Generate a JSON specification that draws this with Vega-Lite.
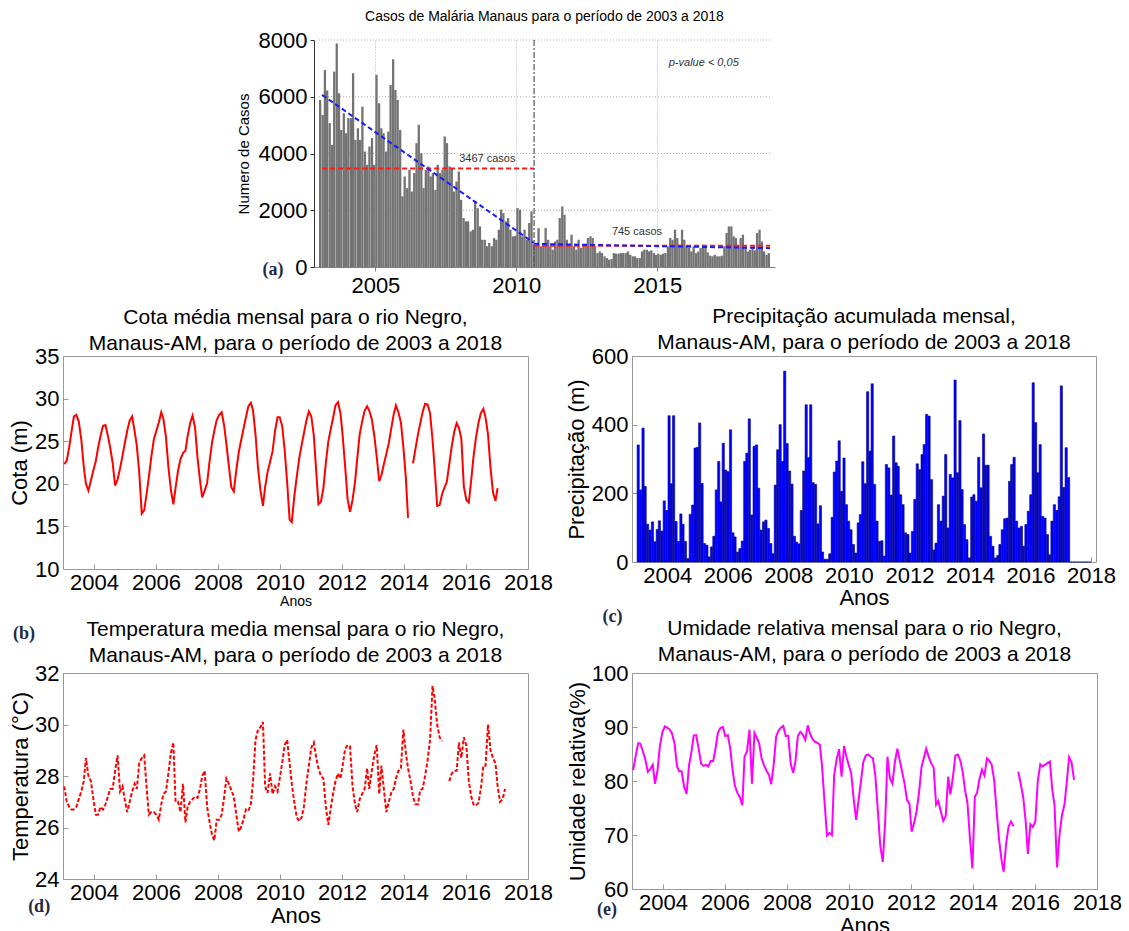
{
  "$schema": "https://vega.github.io/schema/vega-lite/v6.json",
  "background": "white",
  "padding": {"left": 8, "top": 10, "right": 0, "bottom": 0},
  "config": {
    "font": "Liberation Sans",
    "axis": {"labelFont": "Liberation Sans", "titleFont": "Liberation Sans", "labelFontSize": 22, "titleFontWeight": "normal", "labelColor": "#000", "titleColor": "#000", "grid": false, "domain": false, "ticks": true, "tickSize": -5, "tickColor": "#999999", "labelFlush": false, "labelOverlap": false, "labelPadding": 9},
    "title": {"font": "Liberation Sans", "fontWeight": "normal", "fontSize": 21, "color": "#000", "lineHeight": 26, "offset": 4}
  },
  "datasets": {
    "casos": [
      {"t":2003.04,"c":5890},{"t":2003.13,"c":5360},{"t":2003.21,"c":6945},{"t":2003.29,"c":6220},{"t":2003.38,"c":5070},{"t":2003.46,"c":4305},{"t":2003.54,"c":6885},{"t":2003.63,"c":7880},{"t":2003.71,"c":6120},{"t":2003.79,"c":4830},{"t":2003.88,"c":5420},{"t":2003.96,"c":4715},
      {"t":2004.04,"c":5245},{"t":2004.13,"c":5245},{"t":2004.21,"c":6830},{"t":2004.29,"c":4480},{"t":2004.38,"c":4890},{"t":2004.46,"c":4480},{"t":2004.54,"c":5650},{"t":2004.63,"c":4070},{"t":2004.71,"c":3600},{"t":2004.79,"c":4245},{"t":2004.88,"c":4540},{"t":2004.96,"c":3600},
      {"t":2005.04,"c":6770},{"t":2005.13,"c":5770},{"t":2005.21,"c":4890},{"t":2005.29,"c":4715},{"t":2005.38,"c":4070},{"t":2005.46,"c":4775},{"t":2005.54,"c":6415},{"t":2005.63,"c":7320},{"t":2005.71,"c":6240},{"t":2005.79,"c":5890},{"t":2005.88,"c":4830},{"t":2005.96,"c":2490},
      {"t":2006.04,"c":3190},{"t":2006.13,"c":2780},{"t":2006.21,"c":3425},{"t":2006.29,"c":2660},{"t":2006.38,"c":3310},{"t":2006.46,"c":4365},{"t":2006.54,"c":5010},{"t":2006.63,"c":4010},{"t":2006.71,"c":2780},{"t":2006.79,"c":3425},{"t":2006.88,"c":3545},{"t":2006.96,"c":3190},
      {"t":2007.04,"c":3310},{"t":2007.13,"c":2720},{"t":2007.21,"c":3600},{"t":2007.29,"c":3310},{"t":2007.38,"c":3425},{"t":2007.46,"c":4600},{"t":2007.54,"c":4365},{"t":2007.63,"c":3545},{"t":2007.71,"c":3485},{"t":2007.79,"c":2660},{"t":2007.88,"c":3015},{"t":2007.96,"c":3365},
      {"t":2008.04,"c":2370},{"t":2008.13,"c":1725},{"t":2008.21,"c":1610},{"t":2008.29,"c":1610},{"t":2008.38,"c":1255},{"t":2008.46,"c":1315},{"t":2008.54,"c":2310},{"t":2008.63,"c":2075},{"t":2008.71,"c":1430},{"t":2008.79,"c":960},{"t":2008.88,"c":960},{"t":2008.96,"c":730},
      {"t":2009.04,"c":845},{"t":2009.13,"c":730},{"t":2009.21,"c":1020},{"t":2009.29,"c":960},{"t":2009.38,"c":1315},{"t":2009.46,"c":2020},{"t":2009.54,"c":1900},{"t":2009.63,"c":1610},{"t":2009.71,"c":1725},{"t":2009.79,"c":1315},{"t":2009.88,"c":1080},{"t":2009.96,"c":1100},
      {"t":2010.04,"c":2075},{"t":2010.13,"c":2020},{"t":2010.21,"c":1080},{"t":2010.29,"c":1315},{"t":2010.38,"c":960},{"t":2010.46,"c":1550},{"t":2010.54,"c":1960},{"t":2010.63,"c":785},{"t":2010.71,"c":730},{"t":2010.79,"c":1370},{"t":2010.88,"c":730},{"t":2010.96,"c":785},
      {"t":2011.04,"c":1370},{"t":2011.13,"c":960},{"t":2011.21,"c":730},{"t":2011.29,"c":610},{"t":2011.38,"c":900},{"t":2011.46,"c":960},{"t":2011.54,"c":1725},{"t":2011.63,"c":2135},{"t":2011.71,"c":1840},{"t":2011.79,"c":960},{"t":2011.88,"c":730},{"t":2011.96,"c":1140},
      {"t":2012.04,"c":730},{"t":2012.13,"c":610},{"t":2012.21,"c":960},{"t":2012.29,"c":670},{"t":2012.38,"c":730},{"t":2012.46,"c":730},{"t":2012.54,"c":1020},{"t":2012.63,"c":1080},{"t":2012.71,"c":1020},{"t":2012.79,"c":730},{"t":2012.88,"c":490},{"t":2012.96,"c":550},
      {"t":2013.04,"c":490},{"t":2013.13,"c":375},{"t":2013.21,"c":315},{"t":2013.29,"c":260},{"t":2013.38,"c":280},{"t":2013.46,"c":490},{"t":2013.54,"c":470},{"t":2013.63,"c":470},{"t":2013.71,"c":490},{"t":2013.79,"c":490},{"t":2013.88,"c":490},{"t":2013.96,"c":550},
      {"t":2014.04,"c":430},{"t":2014.13,"c":375},{"t":2014.21,"c":375},{"t":2014.29,"c":315},{"t":2014.38,"c":315},{"t":2014.46,"c":550},{"t":2014.54,"c":610},{"t":2014.63,"c":610},{"t":2014.71,"c":550},{"t":2014.79,"c":585},{"t":2014.88,"c":490},{"t":2014.96,"c":430},
      {"t":2015.04,"c":470},{"t":2015.13,"c":430},{"t":2015.21,"c":470},{"t":2015.29,"c":490},{"t":2015.38,"c":730},{"t":2015.46,"c":1020},{"t":2015.54,"c":960},{"t":2015.63,"c":1315},{"t":2015.71,"c":1020},{"t":2015.79,"c":785},{"t":2015.88,"c":1315},{"t":2015.96,"c":960},
      {"t":2016.04,"c":730},{"t":2016.13,"c":670},{"t":2016.21,"c":550},{"t":2016.29,"c":730},{"t":2016.38,"c":490},{"t":2016.46,"c":550},{"t":2016.54,"c":670},{"t":2016.63,"c":785},{"t":2016.71,"c":730},{"t":2016.79,"c":515},{"t":2016.88,"c":400},{"t":2016.96,"c":375},
      {"t":2017.04,"c":430},{"t":2017.13,"c":375},{"t":2017.21,"c":375},{"t":2017.29,"c":400},{"t":2017.38,"c":730},{"t":2017.46,"c":1200},{"t":2017.54,"c":1430},{"t":2017.63,"c":1430},{"t":2017.71,"c":1080},{"t":2017.79,"c":1020},{"t":2017.88,"c":750},{"t":2017.96,"c":1020},
      {"t":2018.04,"c":1140},{"t":2018.13,"c":670},{"t":2018.21,"c":550},{"t":2018.29,"c":610},{"t":2018.38,"c":670},{"t":2018.46,"c":585},{"t":2018.54,"c":1200},{"t":2018.63,"c":1315},{"t":2018.71,"c":900},{"t":2018.79,"c":550},{"t":2018.88,"c":430},{"t":2018.96,"c":490}
    ],
    "linhas": [
      {"s":"m1","tipo":"media","t":2003.11,"v":3467},{"s":"m1","tipo":"media","t":2010.63,"v":3467},
      {"s":"m2","tipo":"media","t":2010.63,"v":745},{"s":"m2","tipo":"media","t":2019,"v":745},
      {"s":"t1","tipo":"tendencia","t":2003.11,"v":6065},{"s":"t1","tipo":"tendencia","t":2010.63,"v":845},
      {"s":"t2","tipo":"tendencia","t":2010.63,"v":815},{"s":"t2","tipo":"tendencia","t":2019,"v":665}
    ],
    "dados": [
      {"t":2003.04,"cota":22.3,"prec":341,"temp":27.6,"ur":82.0},
      {"t":2003.12,"cota":22.7,"prec":210,"temp":27.0,"ur":84.7},
      {"t":2003.20,"cota":24.3,"prec":390,"temp":26.8,"ur":87.0},
      {"t":2003.27,"cota":26.0,"prec":220,"temp":26.7,"ur":86.9},
      {"t":2003.35,"cota":27.9,"prec":110,"temp":26.7,"ur":85.5},
      {"t":2003.43,"cota":28.1,"prec":93,"temp":26.8,"ur":84.0},
      {"t":2003.51,"cota":27.3,"prec":117,"temp":27.1,"ur":81.7},
      {"t":2003.59,"cota":25.2,"prec":59,"temp":27.4,"ur":82.2},
      {"t":2003.67,"cota":22.0,"prec":95,"temp":27.8,"ur":83.0},
      {"t":2003.74,"cota":20.0,"prec":120,"temp":28.7,"ur":79.5},
      {"t":2003.82,"cota":19.2,"prec":90,"temp":28.0,"ur":81.8},
      {"t":2003.90,"cota":20.4,"prec":178,"temp":27.8,"ur":86.5},
      {"t":2003.98,"cota":21.6,"prec":150,"temp":27.1,"ur":89.0},
      {"t":2004.06,"cota":22.7,"prec":426,"temp":26.5,"ur":90.1},
      {"t":2004.13,"cota":24.2,"prec":228,"temp":26.5,"ur":89.9},
      {"t":2004.21,"cota":25.6,"prec":426,"temp":26.8,"ur":89.6},
      {"t":2004.29,"cota":26.8,"prec":118,"temp":26.7,"ur":88.8},
      {"t":2004.37,"cota":26.9,"prec":60,"temp":26.9,"ur":87.0},
      {"t":2004.45,"cota":25.6,"prec":140,"temp":27.2,"ur":82.8},
      {"t":2004.52,"cota":24.3,"prec":110,"temp":27.5,"ur":81.8},
      {"t":2004.60,"cota":22.5,"prec":60,"temp":27.5,"ur":81.8},
      {"t":2004.68,"cota":19.8,"prec":10,"temp":28.2,"ur":79.0},
      {"t":2004.76,"cota":20.5,"prec":139,"temp":28.8,"ur":77.6},
      {"t":2004.84,"cota":21.8,"prec":166,"temp":27.4,"ur":82.9},
      {"t":2004.92,"cota":23.3,"prec":332,"temp":27.6,"ur":85.5},
      {"t":2004.99,"cota":24.7,"prec":334,"temp":27.1,"ur":88.4},
      {"t":2005.07,"cota":26.2,"prec":405,"temp":26.6,"ur":88.5},
      {"t":2005.15,"cota":27.4,"prec":229,"temp":27.0,"ur":86.0},
      {"t":2005.23,"cota":27.9,"prec":54,"temp":27.4,"ur":83.2},
      {"t":2005.31,"cota":26.2,"prec":49,"temp":27.7,"ur":82.8},
      {"t":2005.38,"cota":24.5,"prec":15,"temp":27.5,"ur":83.0},
      {"t":2005.46,"cota":21.3,"prec":44,"temp":28.5,"ur":82.7},
      {"t":2005.54,"cota":16.5,"prec":75,"temp":28.7,"ur":83.7},
      {"t":2005.62,"cota":16.9,"prec":210,"temp":28.8,"ur":83.7},
      {"t":2005.70,"cota":18.9,"prec":293,"temp":27.5,"ur":86.2},
      {"t":2005.77,"cota":20.8,"prec":175,"temp":26.5,"ur":88.9},
      {"t":2005.85,"cota":23.2,"prec":346,"temp":26.6,"ur":89.8},
      {"t":2005.93,"cota":25.2,"prec":268,"temp":26.6,"ur":90.0},
      {"t":2006.01,"cota":26.2,"prec":263,"temp":26.5,"ur":88.3},
      {"t":2006.09,"cota":27.2,"prec":385,"temp":26.3,"ur":88.5},
      {"t":2006.17,"cota":28.4,"prec":85,"temp":26.9,"ur":86.0},
      {"t":2006.24,"cota":27.6,"prec":73,"temp":27.3,"ur":82.2},
      {"t":2006.32,"cota":25.5,"prec":29,"temp":27.4,"ur":79.1},
      {"t":2006.40,"cota":22.0,"prec":39,"temp":28.1,"ur":77.8},
      {"t":2006.48,"cota":19.3,"prec":61,"temp":28.9,"ur":77.0},
      {"t":2006.56,"cota":17.6,"prec":293,"temp":29.3,"ur":75.5},
      {"t":2006.63,"cota":19.5,"prec":317,"temp":27.0,"ur":84.5},
      {"t":2006.71,"cota":21.5,"prec":417,"temp":27.0,"ur":85.5},
      {"t":2006.79,"cota":22.9,"prec":137,"temp":26.6,"ur":89.5},
      {"t":2006.87,"cota":23.6,"prec":337,"temp":27.7,"ur":79.5},
      {"t":2006.95,"cota":23.9,"prec":341,"temp":26.2,"ur":88.9},
      {"t":2007.02,"cota":25.6,"prec":215,"temp":26.8,"ur":88.1},
      {"t":2007.10,"cota":27.1,"prec":93,"temp":27.0,"ur":87.0},
      {"t":2007.18,"cota":28.0,"prec":117,"temp":27.1,"ur":84.2},
      {"t":2007.26,"cota":26.6,"prec":122,"temp":27.2,"ur":82.9},
      {"t":2007.34,"cota":23.0,"prec":98,"temp":27.15,"ur":81.9},
      {"t":2007.42,"cota":20.4,"prec":54,"temp":27.5,"ur":81.1},
      {"t":2007.49,"cota":18.4,"prec":24,"temp":28.0,"ur":79.4},
      {"t":2007.57,"cota":19.2,"prec":224,"temp":28.2,"ur":83.0},
      {"t":2007.65,"cota":20.1,"prec":327,"temp":26.8,"ur":88.2},
      {"t":2007.73,"cota":22.7,"prec":400,"temp":26.2,"ur":89.4},
      {"t":2007.81,"cota":24.9,"prec":293,"temp":25.7,"ur":89.9},
      {"t":2007.88,"cota":26.2,"prec":556,"temp":25.5,"ur":90.2},
      {"t":2007.96,"cota":27.5,"prec":345,"temp":26.3,"ur":88.3},
      {"t":2008.04,"cota":28.1,"prec":265,"temp":26.3,"ur":88.4},
      {"t":2008.12,"cota":28.4,"prec":227,"temp":26.5,"ur":83.2},
      {"t":2008.20,"cota":26.8,"prec":75,"temp":27.2,"ur":81.5},
      {"t":2008.27,"cota":24.7,"prec":58,"temp":27.9,"ur":83.5},
      {"t":2008.35,"cota":22.1,"prec":53,"temp":27.7,"ur":88.3},
      {"t":2008.43,"cota":19.6,"prec":150,"temp":27.45,"ur":89.1},
      {"t":2008.51,"cota":19.1,"prec":265,"temp":27.2,"ur":88.6},
      {"t":2008.59,"cota":21.6,"prec":458,"temp":26.5,"ur":87.6},
      {"t":2008.67,"cota":23.7,"prec":304,"temp":25.85,"ur":90.3},
      {"t":2008.74,"cota":25.0,"prec":458,"temp":26.0,"ur":88.8},
      {"t":2008.82,"cota":26.4,"prec":231,"temp":26.3,"ur":87.8},
      {"t":2008.90,"cota":27.8,"prec":226,"temp":26.7,"ur":87.3},
      {"t":2008.98,"cota":29.1,"prec":111,"temp":26.65,"ur":87.05},
      {"t":2009.06,"cota":29.5,"prec":164,"temp":26.9,"ur":86.7},
      {"t":2009.13,"cota":28.6,"prec":29,"temp":27.8,"ur":82.8},
      {"t":2009.21,"cota":25.8,"prec":8,"temp":29.4,"ur":76.2},
      {"t":2009.29,"cota":21.9,"prec":8,"temp":29.8,"ur":69.9},
      {"t":2009.37,"cota":19.2,"prec":24,"temp":29.9,"ur":70.4},
      {"t":2009.45,"cota":17.4,"prec":130,"temp":30.1,"ur":70.0},
      {"t":2009.52,"cota":19.6,"prec":262,"temp":27.6,"ur":81.0},
      {"t":2009.60,"cota":21.4,"prec":294,"temp":27.34,"ur":84.0},
      {"t":2009.68,"cota":22.6,"prec":353,"temp":28.1,"ur":85.9},
      {"t":2009.76,"cota":23.8,"prec":206,"temp":27.3,"ur":80.8},
      {"t":2009.84,"cota":26.2,"prec":303,"temp":27.6,"ur":86.5},
      {"t":2009.92,"cota":27.8,"prec":167,"temp":27.4,"ur":84.4},
      {"t":2009.99,"cota":27.8,"prec":119,"temp":27.9,"ur":83.0},
      {"t":2010.07,"cota":26.8,"prec":94,"temp":28.5,"ur":81.5},
      {"t":2010.15,"cota":24.0,"prec":51,"temp":29.2,"ur":76.8},
      {"t":2010.23,"cota":20.2,"prec":26,"temp":29.4,"ur":72.8},
      {"t":2010.31,"cota":15.8,"prec":114,"temp":28.5,"ur":76.5},
      {"t":2010.38,"cota":15.5,"prec":138,"temp":27.7,"ur":79.7},
      {"t":2010.46,"cota":18.5,"prec":292,"temp":27.0,"ur":83.5},
      {"t":2010.54,"cota":20.8,"prec":228,"temp":26.4,"ur":84.7},
      {"t":2010.62,"cota":23.0,"prec":496,"temp":26.25,"ur":84.9},
      {"t":2010.70,"cota":24.6,"prec":323,"temp":26.4,"ur":84.5},
      {"t":2010.77,"cota":25.9,"prec":519,"temp":26.8,"ur":84.2},
      {"t":2010.85,"cota":27.4,"prec":226,"temp":27.7,"ur":81.0},
      {"t":2010.93,"cota":28.5,"prec":119,"temp":28.4,"ur":74.5},
      {"t":2011.01,"cota":27.9,"prec":60,"temp":29.1,"ur":68.0},
      {"t":2011.09,"cota":25.7,"prec":62,"temp":29.3,"ur":65.0},
      {"t":2011.17,"cota":21.4,"prec":17,"temp":28.7,"ur":72.8},
      {"t":2011.24,"cota":17.6,"prec":284,"temp":28.3,"ur":84.5},
      {"t":2011.32,"cota":17.9,"prec":274,"temp":28.0,"ur":80.5},
      {"t":2011.40,"cota":19.5,"prec":195,"temp":27.9,"ur":79.5},
      {"t":2011.48,"cota":22.5,"prec":367,"temp":26.8,"ur":83.5},
      {"t":2011.56,"cota":25.0,"prec":289,"temp":26.1,"ur":86.0},
      {"t":2011.63,"cota":26.3,"prec":279,"temp":26.7,"ur":84.0},
      {"t":2011.71,"cota":27.7,"prec":196,"temp":27.3,"ur":81.8},
      {"t":2011.79,"cota":29.2,"prec":167,"temp":27.8,"ur":79.6},
      {"t":2011.87,"cota":29.6,"prec":85,"temp":28.1,"ur":76.5},
      {"t":2011.95,"cota":28.3,"prec":80,"temp":27.9,"ur":75.8},
      {"t":2012.02,"cota":25.7,"prec":26,"temp":28.4,"ur":70.6},
      {"t":2012.10,"cota":22.1,"prec":89,"temp":29.05,"ur":72.2},
      {"t":2012.18,"cota":18.2,"prec":182,"temp":29.2,"ur":74.4},
      {"t":2012.26,"cota":16.7,"prec":286,"temp":29.15,"ur":77.9},
      {"t":2012.34,"cota":18.1,"prec":269,"temp":27.6,"ur":82.6},
      {"t":2012.42,"cota":20.2,"prec":313,"temp":26.9,"ur":84.4},
      {"t":2012.49,"cota":22.9,"prec":342,"temp":26.6,"ur":86.0},
      {"t":2012.57,"cota":25.8,"prec":430,"temp":27.1,"ur":84.5},
      {"t":2012.65,"cota":27.3,"prec":425,"temp":27.3,"ur":83.3},
      {"t":2012.73,"cota":28.6,"prec":240,"temp":27.5,"ur":82.5},
      {"t":2012.81,"cota":29.1,"prec":35,"temp":28.3,"ur":75.6},
      {"t":2012.88,"cota":28.6,"prec":55,"temp":27.5,"ur":76.3},
      {"t":2012.96,"cota":27.6,"prec":167,"temp":28.2,"ur":74.4},
      {"t":2013.04,"cota":25.7,"prec":119,"temp":28.8,"ur":72.6},
      {"t":2013.12,"cota":23.2,"prec":192,"temp":29.2,"ur":73.5},
      {"t":2013.20,"cota":20.3,"prec":313,"temp":27.3,"ur":80.8},
      {"t":2013.27,"cota":21.0,"prec":99,"temp":28.4,"ur":77.5},
      {"t":2013.35,"cota":22.3,"prec":255,"temp":27.5,"ur":80.6},
      {"t":2013.43,"cota":23.5,"prec":245,"temp":26.6,"ur":84.7},
      {"t":2013.51,"cota":24.8,"prec":530,"temp":27.0,"ur":84.9},
      {"t":2013.59,"cota":26.5,"prec":260,"temp":27.35,"ur":83.8},
      {"t":2013.67,"cota":28.2,"prec":412,"temp":27.5,"ur":81.6},
      {"t":2013.74,"cota":29.2,"prec":211,"temp":27.9,"ur":78.4},
      {"t":2013.82,"cota":28.4,"prec":109,"temp":28.2,"ur":76.0},
      {"t":2013.90,"cota":27.2,"prec":65,"temp":28.3,"ur":69.5},
      {"t":2013.98,"cota":24.3,"prec":12,"temp":29.8,"ur":63.8},
      {"t":2014.06,"cota":20.7,"prec":189,"temp":28.9,"ur":77.1},
      {"t":2014.13,"cota":16.0,"prec":196,"temp":28.3,"ur":77.8},
      {"t":2014.21,"cota":null,"prec":177,"temp":27.8,"ur":80.4},
      {"t":2014.29,"cota":22.4,"prec":305,"temp":27.2,"ur":82.1},
      {"t":2014.37,"cota":24.1,"prec":216,"temp":26.9,"ur":81.0},
      {"t":2014.45,"cota":25.8,"prec":373,"temp":26.9,"ur":84.2},
      {"t":2014.52,"cota":27.0,"prec":282,"temp":27.45,"ur":83.8},
      {"t":2014.60,"cota":28.4,"prec":282,"temp":27.5,"ur":83.1},
      {"t":2014.68,"cota":29.4,"prec":75,"temp":28.0,"ur":80.3},
      {"t":2014.76,"cota":29.3,"prec":46,"temp":28.6,"ur":74.6},
      {"t":2014.84,"cota":28.3,"prec":12,"temp":29.4,"ur":69.2},
      {"t":2014.92,"cota":25.2,"prec":19,"temp":31.5,"ur":65.4},
      {"t":2014.99,"cota":21.8,"prec":51,"temp":31.0,"ur":63.2},
      {"t":2015.07,"cota":17.4,"prec":94,"temp":30.0,"ur":68.5},
      {"t":2015.15,"cota":17.5,"prec":126,"temp":29.5,"ur":71.6},
      {"t":2015.23,"cota":18.8,"prec":128,"temp":29.35,"ur":72.5},
      {"t":2015.31,"cota":19.6,"prec":235,"temp":null,"ur":71.6},
      {"t":2015.38,"cota":20.2,"prec":284,"temp":null,"ur":null},
      {"t":2015.46,"cota":22.3,"prec":305,"temp":27.8,"ur":81.7},
      {"t":2015.54,"cota":24.4,"prec":119,"temp":28.1,"ur":79.5},
      {"t":2015.62,"cota":26.1,"prec":99,"temp":28.2,"ur":77.0},
      {"t":2015.70,"cota":27.1,"prec":104,"temp":28.2,"ur":72.5},
      {"t":2015.77,"cota":26.6,"prec":46,"temp":29.3,"ur":66.5},
      {"t":2015.85,"cota":25.3,"prec":109,"temp":28.7,"ur":72.0},
      {"t":2015.93,"cota":19.7,"prec":148,"temp":29.5,"ur":71.5},
      {"t":2016.01,"cota":18.1,"prec":196,"temp":29.2,"ur":72.5},
      {"t":2016.09,"cota":17.8,"prec":522,"temp":27.8,"ur":80.0},
      {"t":2016.17,"cota":20.5,"prec":406,"temp":27.2,"ur":83.1},
      {"t":2016.24,"cota":23.1,"prec":260,"temp":26.9,"ur":82.7},
      {"t":2016.32,"cota":25.4,"prec":342,"temp":26.85,"ur":83.0},
      {"t":2016.40,"cota":27.1,"prec":133,"temp":26.95,"ur":83.3},
      {"t":2016.48,"cota":28.3,"prec":128,"temp":27.5,"ur":83.6},
      {"t":2016.56,"cota":28.8,"prec":80,"temp":28.4,"ur":78.3},
      {"t":2016.63,"cota":27.8,"prec":21,"temp":28.4,"ur":75.5},
      {"t":2016.71,"cota":25.8,"prec":119,"temp":30.0,"ur":64.0},
      {"t":2016.79,"cota":21.9,"prec":167,"temp":29.0,"ur":70.0},
      {"t":2016.87,"cota":19.0,"prec":150,"temp":28.7,"ur":73.7},
      {"t":2016.95,"cota":18.0,"prec":190,"temp":28.5,"ur":75.6},
      {"t":2017.02,"cota":19.5,"prec":513,"temp":27.6,"ur":79.5},
      {"t":2017.10,"cota":null,"prec":217,"temp":27.0,"ur":84.4},
      {"t":2017.18,"cota":null,"prec":333,"temp":27.1,"ur":83.4},
      {"t":2017.26,"cota":null,"prec":246,"temp":27.5,"ur":80.2},
      {"t":2017.34,"cota":null,"prec":0,"temp":null,"ur":null},
      {"t":2017.42,"cota":null,"prec":0,"temp":null,"ur":null},
      {"t":2017.49,"cota":null,"prec":0,"temp":null,"ur":null},
      {"t":2017.57,"cota":null,"prec":0,"temp":null,"ur":null},
      {"t":2017.65,"cota":null,"prec":0,"temp":null,"ur":null},
      {"t":2017.73,"cota":null,"prec":0,"temp":null,"ur":null},
      {"t":2017.81,"cota":null,"prec":0,"temp":null,"ur":null},
      {"t":2017.88,"cota":null,"prec":0,"temp":null,"ur":null},
      {"t":2017.96,"cota":null,"prec":0,"temp":null,"ur":null}
    ]
  },
  "bounds": "flush",
  "columns": 2,
  "spacing": {"row": 0, "column": 104},
  "concat": [
    {
      "width": 465, "height": 227,
      "view": {"stroke": null},
      "title": {"text": "Casos de Malária Manaus para o período de 2003 a 2018", "fontSize": 14, "offset": 5, "lineHeight": 16, "dx": 249},
      "layer": [
        {
          "data": {"values": [{"g": 2000}, {"g": 4000}, {"g": 6000}, {"g": 8000}]},
          "mark": {"type": "rule", "color": "#b0b0b0", "strokeDash": [1, 2], "strokeWidth": 1},
          "encoding": {"y": {"field": "g", "type": "quantitative"}, "x": {"datum": 2003}, "x2": {"datum": 2019}}
        },
        {
          "data": {"name": "casos"},
          "mark": {"type": "bar", "color": "#737373", "size": 2.3},
          "encoding": {
            "x": {"field": "t", "type": "quantitative", "scale": {"domain": [2003, 2019], "range": [251, 712], "nice": false, "zero": false},
                  "axis": {"values": [2005, 2010, 2015], "format": "d", "title": null, "grid": true, "gridDash": [1, 2], "gridColor": "#b0b0b0", "domain": true, "domainColor": "#808080", "ticks": true, "tickSize": 4, "tickColor": "#808080", "labelPadding": 4}},
            "y": {"field": "c", "type": "quantitative", "scale": {"domain": [0, 8000], "nice": false},
                  "axis": {"values": [0, 2000, 4000, 6000, 8000], "format": "d", "offset": -251, "title": "Numero de Casos", "titleFontSize": 15, "titlePadding": 7, "grid": false, "domain": true, "domainColor": "#333333", "ticks": true, "tickSize": 4, "tickColor": "#333333", "labelPadding": 3}}
          }
        },
        {
          "data": {"name": "linhas"},
          "transform": [{"filter": "datum.tipo == 'media'"}],
          "mark": {"type": "line", "color": "#ff1a1a", "strokeDash": [5, 3], "strokeWidth": 2},
          "encoding": {"x": {"field": "t", "type": "quantitative"}, "y": {"field": "v", "type": "quantitative"}, "detail": {"field": "s"}}
        },
        {
          "data": {"name": "linhas"},
          "transform": [{"filter": "datum.tipo == 'tendencia'"}],
          "mark": {"type": "line", "color": "#1a1aff", "strokeDash": [5, 3], "strokeWidth": 2},
          "encoding": {"x": {"field": "t", "type": "quantitative"}, "y": {"field": "v", "type": "quantitative"}, "detail": {"field": "s"}}
        },
        {
          "data": {"values": [{"t": 2010.63}]},
          "mark": {"type": "rule", "color": "#555555", "strokeDash": [6, 2, 2, 2], "strokeWidth": 1.2},
          "encoding": {"x": {"field": "t", "type": "quantitative"}}
        },
        {
          "data": {"values": [{"t": 2008.97, "v": 3806, "txt": "3467 casos"}, {"t": 2014.28, "v": 1233, "txt": "745 casos"}]},
          "mark": {"type": "text", "fontSize": 11, "color": "#333333"},
          "encoding": {"x": {"field": "t", "type": "quantitative"}, "y": {"field": "v", "type": "quantitative"}, "text": {"field": "txt"}}
        },
        {
          "data": {"values": [{"t": 2016.65, "v": 7180, "txt": "p-value < 0,05"}]},
          "mark": {"type": "text", "fontSize": 11, "fontStyle": "italic", "color": "#333333"},
          "encoding": {"x": {"field": "t", "type": "quantitative"}, "y": {"field": "v", "type": "quantitative"}, "text": {"field": "txt"}}
        },
        {
          "data": {"values": [{"t": 2001.37, "v": -106, "txt": "(a)"}]},
          "mark": {"type": "text", "font": "Liberation Serif", "fontWeight": "bold", "fontSize": 18, "color": "#1f2a44"},
          "encoding": {"x": {"field": "t", "type": "quantitative"}, "y": {"field": "v", "type": "quantitative"}, "text": {"field": "txt"}}
        }
      ]
    },
    {
      "width": 1, "height": 227,
      "view": {"stroke": null},
      "data": {"values": [{"t": 0}]},
      "mark": {"type": "point", "opacity": 0},
      "encoding": {}
    },
    {
      "width": 1, "height": 89,
      "view": {"stroke": null},
      "data": {"values": [{"t": 0}]},
      "mark": {"type": "point", "opacity": 0},
      "encoding": {}
    },
    {
      "width": 1, "height": 89,
      "view": {"stroke": null},
      "data": {"values": [{"t": 0}]},
      "mark": {"type": "point", "opacity": 0},
      "encoding": {}
    },
    {
      "width": 465, "height": 213,
      "view": {"stroke": "#999999"},
      "title": {"text": ["Cota média mensal para o rio Negro,", "Manaus-AM, para o período de 2003 a 2018"], "offset": -9},
      "layer": [
        {
          "data": {"name": "dados"},
          "mark": {"type": "line", "color": "#ff0000", "strokeWidth": 2},
          "encoding": {
            "x": {"field": "t", "type": "quantitative", "scale": {"domain": [2003, 2018], "nice": false, "zero": false},
                  "axis": {"values": [2004, 2006, 2008, 2010, 2012, 2014, 2016, 2018], "format": "d", "title": "Anos", "titleFontSize": 14, "titlePadding": 1, "labelPadding": 8}},
            "y": {"field": "cota", "type": "quantitative", "scale": {"domain": [10, 35], "nice": false, "zero": false},
                  "axis": {"values": [10, 15, 20, 25, 30, 35], "title": "Cota (m)", "titleFontSize": 22, "titlePadding": 3}}
          }
        },
        {
          "data": {"values": [{"t": 2001.74, "v": 2.37, "txt": "(b)"}]},
          "mark": {"type": "text", "font": "Liberation Serif", "fontWeight": "bold", "fontSize": 18, "color": "#1f2a44"},
          "encoding": {"x": {"field": "t", "type": "quantitative"}, "y": {"field": "v", "type": "quantitative"}, "text": {"field": "txt"}}
        }
      ]
    },
    {
      "width": 464, "height": 206,
      "view": {"stroke": "#999999"},
      "title": {"text": ["Precipitação acumulada mensal,", "Manaus-AM, para o período de 2003 a 2018"], "offset": -8},
      "layer": [
        {
          "data": {"name": "dados"},
          "mark": {"type": "bar", "fill": "#0000ff", "stroke": "#00008b", "strokeWidth": 0.6, "size": 2.2},
          "encoding": {
            "x": {"field": "t", "type": "quantitative", "scale": {"domain": [2003, 2018], "nice": false, "zero": false},
                  "axis": {"values": [2004, 2006, 2008, 2010, 2012, 2014, 2016, 2018], "format": "d", "title": "Anos", "titleFontSize": 22, "titlePadding": 1, "labelPadding": 8}},
            "y": {"field": "prec", "type": "quantitative", "scale": {"domain": [0, 600], "nice": false},
                  "axis": {"values": [0, 200, 400, 600], "title": "Precipitação (m)", "titleFontSize": 22, "titlePadding": 3}}
          }
        },
        {
          "data": {"values": [{"t": 2002.19, "v": -160, "txt": "(c)"}]},
          "mark": {"type": "text", "font": "Liberation Serif", "fontWeight": "bold", "fontSize": 18, "color": "#1f2a44"},
          "encoding": {"x": {"field": "t", "type": "quantitative"}, "y": {"field": "v", "type": "quantitative"}, "text": {"field": "txt"}}
        }
      ]
    },
    {
      "width": 1, "height": 104,
      "view": {"stroke": null},
      "data": {"values": [{"t": 0}]},
      "mark": {"type": "point", "opacity": 0},
      "encoding": {}
    },
    {
      "width": 1, "height": 104,
      "view": {"stroke": null},
      "data": {"values": [{"t": 0}]},
      "mark": {"type": "point", "opacity": 0},
      "encoding": {}
    },
    {
      "width": 465, "height": 206,
      "view": {"stroke": "#999999"},
      "title": {"text": ["Temperatura media mensal para o rio Negro,", "Manaus-AM, para o período de 2003 a 2018"], "offset": -4},
      "layer": [
        {
          "data": {"name": "dados"},
          "mark": {"type": "line", "color": "#ff0000", "strokeWidth": 2, "strokeDash": [4, 2]},
          "encoding": {
            "x": {"field": "t", "type": "quantitative", "scale": {"domain": [2003, 2018], "nice": false, "zero": false},
                  "axis": {"values": [2004, 2006, 2008, 2010, 2012, 2014, 2016, 2018], "format": "d", "title": "Anos", "titleFontSize": 22, "titlePadding": 2, "labelPadding": 8}},
            "y": {"field": "temp", "type": "quantitative", "scale": {"domain": [24, 32], "nice": false, "zero": false},
                  "axis": {"values": [24, 26, 28, 30, 32], "title": "Temperatura (°C)", "titleFontSize": 22, "titlePadding": 2}}
          }
        },
        {
          "data": {"values": [{"t": 2002.23, "v": 22.91, "txt": "(d)"}]},
          "mark": {"type": "text", "font": "Liberation Serif", "fontWeight": "bold", "fontSize": 18, "color": "#1f2a44"},
          "encoding": {"x": {"field": "t", "type": "quantitative"}, "y": {"field": "v", "type": "quantitative"}, "text": {"field": "txt"}}
        }
      ]
    },
    {
      "width": 465, "height": 216,
      "view": {"stroke": "#999999"},
      "title": {"text": ["Umidade relativa mensal para o rio Negro,", "Manaus-AM, para o período de 2003 a 2018"], "offset": -3},
      "layer": [
        {
          "data": {"name": "dados"},
          "mark": {"type": "line", "color": "#ff00ff", "strokeWidth": 2},
          "encoding": {
            "x": {"field": "t", "type": "quantitative", "scale": {"domain": [2003, 2018], "nice": false, "zero": false},
                  "axis": {"values": [2004, 2006, 2008, 2010, 2012, 2014, 2016, 2018], "format": "d", "title": "Anos", "titleFontSize": 22, "titlePadding": 2, "labelPadding": 8}},
            "y": {"field": "ur", "type": "quantitative", "scale": {"domain": [60, 100], "nice": false, "zero": false},
                  "axis": {"values": [60, 70, 80, 90, 100], "title": "Umidade relativa(%)", "titleFontSize": 22, "titlePadding": 2}}
          }
        },
        {
          "data": {"values": [{"t": 2002.19, "v": 56.2, "txt": "(e)"}]},
          "mark": {"type": "text", "font": "Liberation Serif", "fontWeight": "bold", "fontSize": 18, "color": "#1f2a44"},
          "encoding": {"x": {"field": "t", "type": "quantitative"}, "y": {"field": "v", "type": "quantitative"}, "text": {"field": "txt"}}
        }
      ]
    }
  ]
}
